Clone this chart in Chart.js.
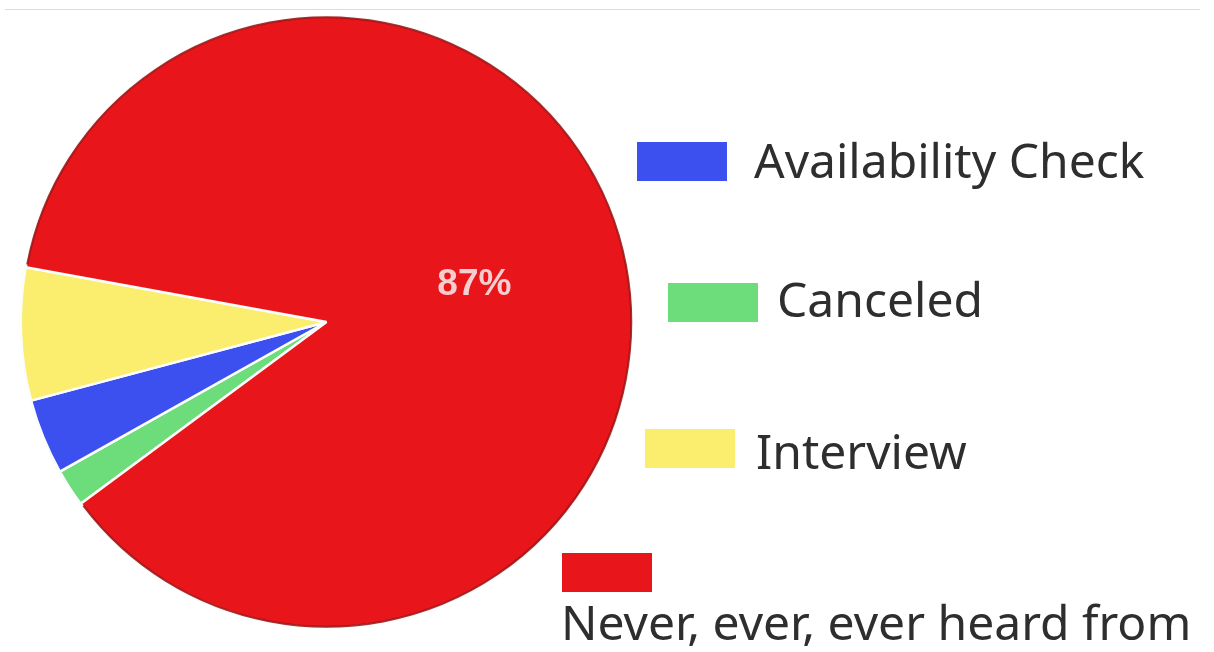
<!DOCTYPE html>
<html>
<head>
<meta charset="utf-8">
<script src="https://cdn.jsdelivr.net/npm/chart.js@4.4.1/dist/chart.umd.min.js"></script>
<style>
  body { margin: 0; background: #fff; width: 1214px; height: 652px; overflow: hidden; position: relative; font-family: "Noto Sans", sans-serif; }
  #topline { position: absolute; left: 5px; top: 9px; width: 1195px; height: 1px; background: #dcdcdc; }
  #pie { position: absolute; left: 0; top: 0; }
  .swatch { position: absolute; width: 90px; height: 39px; }
  .label { position: absolute; white-space: nowrap; font-size: 48px; line-height: 48px; color: #2e2e2e; }
</style>
</head>
<body>
<div id="topline"></div>
<canvas id="pie" width="1214" height="652"></canvas>
<div id="legend"></div>
<script>
// slices, in clockwise order as drawn
let labels = ["Canceled", "Availability Check", "Interview", "Never, ever, ever heard from"];
let values = [2, 4, 7, 87];
let colors = ["#6ddc7a", "#3b50ee", "#fbee6f", "#e8161b"];

// legend order and where each entry sits
let legendOrder = [1, 0, 2, 3];
let legendSpots = [
  { bx: 637, by: 142, tx: 754, ty: 136 },
  { bx: 668, by: 283, tx: 777, ty: 275 },
  { bx: 645, by: 429, tx: 756, ty: 427 },
  { bx: 562, by: 553, tx: 561, ty: 598 }
];

let legend = document.getElementById("legend");
legendOrder.forEach((idx, i) => {
  let s = legendSpots[i];
  let box = document.createElement("div");
  box.className = "swatch";
  box.style.left = s.bx + "px";
  box.style.top = s.by + "px";
  box.style.background = colors[idx];
  legend.appendChild(box);
  let txt = document.createElement("div");
  txt.className = "label";
  txt.style.left = s.tx + "px";
  txt.style.top = s.ty + "px";
  txt.textContent = labels[idx];
  legend.appendChild(txt);
});

// dark rim on the big slice + percentage label
let sliceExtras = {
  id: "sliceExtras",
  afterDatasetsDraw(chart) {
    let ctx = chart.ctx;
    let meta = chart.getDatasetMeta(0);
    meta.data.forEach((arc, i) => {
      if (values[i] < 10) return;
      let p = arc.getProps(["x", "y", "startAngle", "endAngle", "outerRadius"], true);
      ctx.save();
      ctx.strokeStyle = "rgba(150,12,12,0.85)";
      ctx.lineWidth = 2;
      ctx.beginPath();
      ctx.arc(p.x, p.y, p.outerRadius - 1, p.startAngle + 0.01, p.endAngle - 0.01);
      ctx.stroke();
      let pos = arc.tooltipPosition(true);
      ctx.fillStyle = "#f5cfcf";
      ctx.font = "bold 37px 'Liberation Sans'";
      ctx.textAlign = "center";
      ctx.textBaseline = "middle";
      ctx.fillText(values[i] + "%", pos.x - 1, pos.y - 3);
      ctx.restore();
    });
  }
};

let ctx = document.getElementById("pie").getContext("2d");
let chart = new Chart(ctx, {
  type: "pie",
  data: {
    labels: labels,
    datasets: [
      {
        data: values,
        backgroundColor: colors,
        borderColor: "#fbfdfd",
        borderWidth: 2.5
      }
    ]
  },
  options: {
    responsive: false,
    animation: false,
    rotation: 233.5,
    layout: { padding: { left: 19, top: 15, right: 580, bottom: 23 } },
    plugins: {
      legend: { display: false },
      tooltip: { enabled: false }
    }
  },
  plugins: [sliceExtras]
});
</script>
</body>
</html>
